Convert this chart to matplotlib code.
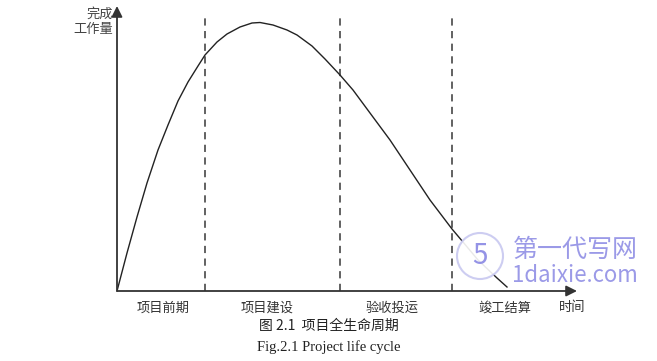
import matplotlib
matplotlib.use("Agg")
import matplotlib.pyplot as plt
from matplotlib.patches import Circle

plt.rcParams['font.family'] = ['Noto Sans CJK SC', 'DejaVu Sans']

# data (arbitrary units: time vs completed workload)
time_vals = [0, 10, 20, 30, 41, 51, 61, 71, 81, 88, 100, 110, 123, 135, 143, 156, 170, 180, 195, 208,
             223, 236, 253, 273, 293, 313, 335, 346, 361, 380, 390]
work_vals = [0, 38, 74, 108, 141, 166, 190, 209, 225, 236, 249, 257, 264, 268, 268.5, 266, 261, 256, 245, 232,
             216, 201, 178, 151, 121, 91, 62, 49, 31, 13, 4]
phase_bounds = [88, 223, 335]
phase_labels = ['项目前期', '项目建设', '验收投运', '竣工结算']
phase_label_x = [46, 150, 275, 388]
x_label = '时间'
y_label = ['完成', '工作量']
caption_cn = '图 2.1  项目全生命周期'
caption_en = 'Fig.2.1 Project life cycle'

fig = plt.figure(figsize=(6.57, 3.61), dpi=100)
W, H = 657, 361
x0, x1 = 117, 577
y0, y1 = 291, 6
ax = fig.add_axes([x0 / W, (H - y0) / H, (x1 - x0) / W, (y0 - y1) / H])
ax.set_xlim(0, x1 - x0)
ax.set_ylim(0, y0 - y1)
for s in ax.spines.values():
    s.set_visible(False)
ax.set_xticks([])
ax.set_yticks([])

axis_col = '#333333'
ax.annotate('', xy=(1, 0), xytext=(0, 0), xycoords='axes fraction',
            arrowprops=dict(arrowstyle='-|>', color=axis_col, lw=1.3, mutation_scale=16,
                            shrinkA=0, shrinkB=0))
ax.annotate('', xy=(0, 1), xytext=(0, 0), xycoords='axes fraction',
            arrowprops=dict(arrowstyle='-|>', color=axis_col, lw=1.3, mutation_scale=16,
                            shrinkA=0, shrinkB=0))

for b in phase_bounds:
    ax.plot([b, b], [0, 276], color='#555555', lw=1.3, linestyle=(0, (4, 3)))

ax.plot(time_vals, work_vals, color='#222222', lw=1.0)

for lbl, xv in zip(phase_labels, phase_label_x):
    ax.text(xv, -17, lbl, ha='center', va='center', fontsize=9.5, color='#333333')
ax.text(455, -17, x_label, ha='center', va='center', fontsize=9.5, color='#333333')

ax.text(-4, 277, y_label[0], ha='right', va='center', fontsize=9.5, color='#444444')
ax.text(-4, 261, y_label[1], ha='right', va='center', fontsize=9.5, color='#444444')

fig.text(329 / W, 1 - 326 / H, caption_cn, ha='center', va='center', fontsize=10,
         color='#222222', family=['Noto Sans CJK SC'])
fig.text(329 / W, 1 - 347 / H, caption_en, ha='center', va='center', fontsize=10.5,
         color='#222222', family=['Liberation Serif'])

# watermark
wm = '#7a78e0'
fig.patches.append(Circle((4.80, (H - 256) / 100), 0.23, transform=fig.dpi_scale_trans,
                          facecolor='white', edgecolor='#c8c8f0', lw=1.5, alpha=0.9,
                          zorder=5))
fig.text(480 / W, 1 - 256 / H, '5', ha='center', va='center', fontsize=20,
         color=wm, alpha=0.8, style='italic', zorder=6)
fig.text(575 / W, 1 - 250 / H, '第一代写网', ha='center', va='center', fontsize=18,
         color=wm, alpha=0.75, zorder=6)
fig.text(575 / W, 1 - 276 / H, '1daixie.com', ha='center', va='center', fontsize=16,
         color=wm, alpha=0.75, zorder=6)

fig.savefig('out.png', dpi=100)
